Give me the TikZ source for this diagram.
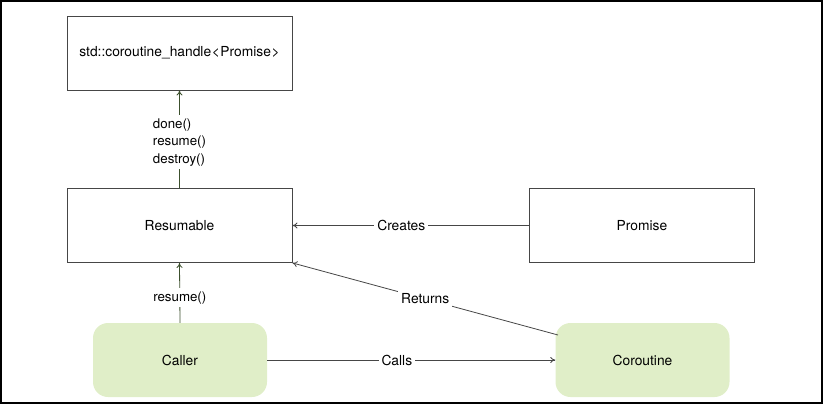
\documentclass[tikz,border=0pt]{standalone}
\usepackage{fontspec}
\setmainfont{TeX Gyre Heros}
\usetikzlibrary{arrows.meta}
\definecolor{nodegreen}{RGB}{224,238,200}
\definecolor{linegray}{RGB}{70,70,70}
\definecolor{vline}{RGB}{60,80,45}
\tikzset{
  x=1pt,y=-1pt,
  every node/.style={font=\fontsize{13.8}{16}\selectfont},
  plainbox/.style={draw=linegray,line width=0.9pt,minimum width=225pt,minimum height=74pt,inner sep=0pt},
  roundbox/.style={fill=nodegreen,draw=none,rounded corners=15pt,minimum width=174pt,minimum height=74pt,inner sep=0pt},
  conn/.style={draw=linegray,line width=0.8pt,-{To[length=5pt,width=6pt]}},
  vconn/.style={draw=vline,line width=0.8pt,-{To[length=5pt,width=6pt]}},
  lbl/.style={fill=white,inner sep=3pt}
}
\begin{document}
\begin{tikzpicture}
\useasboundingbox (0,0) rectangle (823,405);
\draw[black,line width=2pt] (1,1) rectangle (821.5,403);
\node[plainbox] (handle) at (179.5,53) {std::coroutine\_handle\hspace{0.6pt}<\hspace{0.6pt}Promise\hspace{0.6pt}>};
\node[plainbox] (resumable) at (179.5,225.5) {Resumable};
\node[plainbox] (promise) at (642,225.5) {Promise};
\node[roundbox] (caller) at (180,360) {Caller};
\node[roundbox] (coroutine) at (642.5,360) {Coroutine};
\draw[vconn] (resumable.north) -- node[lbl,align=left,pos=0.47,font=\fontsize{13.3}{17.5}\selectfont] {done()\\resume()\\destroy()} (handle.south);
\draw[vconn] (caller.north) -- node[lbl,pos=0.42,font=\fontsize{13.3}{15}\selectfont] {resume()} (resumable.south);
\draw[conn] (promise.west) -- node[lbl,pos=0.54] {Creates} (resumable.east);
\coordinate (cotop) at (558,335);
\draw[conn] (cotop) -- node[lbl,pos=0.5] {Returns} (resumable.south east);
\draw[conn] (caller.east) -- node[lbl,pos=0.45] {Calls} (coroutine.west);
\end{tikzpicture}
\end{document}
